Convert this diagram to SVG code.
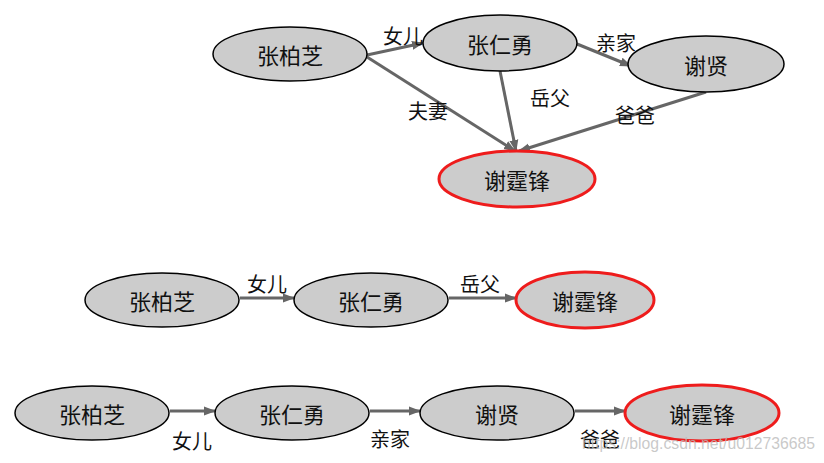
<svg xmlns="http://www.w3.org/2000/svg" width="824" height="463" viewBox="0 0 824 463">
<style>
.n ellipse{fill:#cccccc;stroke:#000;stroke-width:1.5}
.n.t ellipse{stroke:#ee1c1c;stroke-width:3}
.n text{font-family:"Noto Sans CJK SC","Liberation Sans",sans-serif;font-size:22px;fill:#111;text-anchor:middle;dominant-baseline:central}
.e line{stroke:#666;stroke-width:3;marker-end:url(#ah)}
.lbl{font-family:"Noto Sans CJK SC","Liberation Sans",sans-serif;font-size:20px;fill:#111;text-anchor:middle;dominant-baseline:central}
.wm{font-family:"Liberation Sans",sans-serif;font-size:16px;fill:#bbbbbb;fill-opacity:0.8}
</style>
<defs>
<marker id="ah" markerUnits="userSpaceOnUse" markerWidth="12" markerHeight="10" refX="11" refY="5" orient="auto">
<path d="M0,0.5 L12,5 L0,9.5 Z" fill="#666"/>
</marker>
</defs>
<rect width="824" height="463" fill="#fff"/>
<g id="connectors">
<g class="e">
<line x1="367" y1="55" x2="423" y2="43"/>
<line x1="367" y1="57" x2="515" y2="151"/>
<line x1="500" y1="71" x2="516" y2="151"/>
<line x1="577" y1="44" x2="631" y2="66"/>
<line x1="706" y1="92" x2="519" y2="151"/>
<line x1="240" y1="298" x2="294" y2="298"/>
<line x1="449" y1="298" x2="516" y2="298"/>
<line x1="170" y1="411" x2="215" y2="411"/>
<line x1="370" y1="411" x2="420" y2="411"/>
<line x1="575" y1="411" x2="625" y2="411"/>
</g>
<text class="lbl" x="403" y="35">女儿</text>
<text class="lbl" x="428" y="110">夫妻</text>
<text class="lbl" x="550" y="97">岳父</text>
<text class="lbl" x="616" y="42">亲家</text>
<text class="lbl" x="635" y="114">爸爸</text>
<text class="lbl" x="267" y="283">女儿</text>
<text class="lbl" x="480" y="283">岳父</text>
<text class="lbl" x="192" y="440">女儿</text>
<text class="lbl" x="390" y="438">亲家</text>
<text class="lbl" x="600" y="438">爸爸</text>
</g>
<g id="a_zbz" class="n"><ellipse cx="290" cy="54" rx="77" ry="27"/><text x="290" y="54">张柏芝</text></g>
<g id="a_zry" class="n"><ellipse cx="500" cy="43" rx="77" ry="28"/><text x="500" y="43">张仁勇</text></g>
<g id="a_xx" class="n"><ellipse cx="706" cy="64" rx="78" ry="28"/><text x="706" y="64">谢贤</text></g>
<g id="a_xtf" class="n t"><ellipse cx="517" cy="179" rx="78" ry="28"/><text x="517" y="179">谢霆锋</text></g>
<g id="b_zbz" class="n"><ellipse cx="162" cy="300" rx="77" ry="27"/><text x="162" y="300">张柏芝</text></g>
<g id="b_zry" class="n"><ellipse cx="371" cy="300" rx="77" ry="27"/><text x="371" y="300">张仁勇</text></g>
<g id="b_xtf" class="n t"><ellipse cx="585" cy="300" rx="69" ry="28"/><text x="585" y="300">谢霆锋</text></g>
<g id="c_zbz" class="n"><ellipse cx="92" cy="413" rx="77" ry="27"/><text x="92" y="413">张柏芝</text></g>
<g id="c_zry" class="n"><ellipse cx="292" cy="413" rx="77" ry="27"/><text x="292" y="413">张仁勇</text></g>
<g id="c_xx" class="n"><ellipse cx="497" cy="413" rx="77" ry="27"/><text x="497" y="413">谢贤</text></g>
<g id="c_xtf" class="n t"><ellipse cx="702" cy="413" rx="77" ry="28"/><text x="702" y="413">谢霆锋</text></g>
<text class="wm" x="582" y="449" textLength="233" lengthAdjust="spacingAndGlyphs">https://blog.csdn.net/u012736685</text>
</svg>
